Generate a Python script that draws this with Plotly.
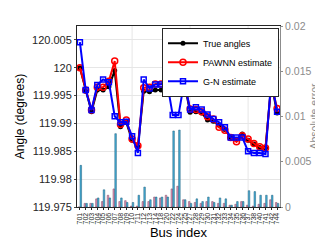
import plotly.graph_objects as go

buses = ["701","702","703","704","705","706","707","708","709","710","711","712","713","714",
         "718","720","722","724","725","727","728","729","730","731","732","733","734","735",
         "736","737","738","740","741","742","744"]

true_angles = [120.0000, 119.9958, 119.9921, 119.9960, 119.9960, 119.9966, 119.9995, 119.9894, 119.9902,
               119.9870, 119.9858, 119.9958, 119.9957, 119.9960, 119.9960, 119.9963, 119.9997, 119.9999,
               119.9973, 119.9920, 119.9921, 119.9919, 119.9906, 119.9904, 119.9897, 119.9889, 119.9875,
               119.9871, 119.9881, 119.9870, 119.9863, 119.9857, 119.9856, 119.9972, 119.9919]
pawnn = [120.0000, 119.9960, 119.9924, 119.9965, 119.9965, 119.9976, 120.0012, 119.9898, 119.9906,
         119.9872, 119.9860, 119.9964, 119.9965, 119.9971, 119.9971, 119.9975, 120.0017, 120.0020,
         119.9973, 119.9926, 119.9925, 119.9921, 119.9912, 119.9908, 119.9893, 119.9888, 119.9875,
         119.9867, 119.9878, 119.9872, 119.9864, 119.9858, 119.9856, 119.9970, 119.9927]
gn = [120.0046, 119.9960, 119.9924, 119.9969, 119.9979, 119.9974, 119.9913, 119.9902, 119.9903,
      119.9877, 119.9847, 119.9979, 119.9963, 119.9970, 119.9970, 119.9976, 119.9915, 119.9915,
      119.9975, 119.9925, 119.9929, 119.9925, 119.9916, 119.9908, 119.9902, 119.9893, 119.9875,
      119.9875, 119.9875, 119.9850, 119.9847, 119.9847, 119.9845, 119.9980, 119.9921]

err_pawnn = [0.0000, 0.0004, 0.0004, 0.0009, 0.0006, 0.0013, 0.0020, 0.0006, 0.0007, 0.0001, 0.0001,
             0.0006, 0.0006, 0.0011, 0.0010, 0.0013, 0.0020, 0.0023, 0.0008, 0.0006, 0.0005, 0.0004,
             0.0006, 0.0006, 0.0004, 0.0004, 0.0002, 0.0003, 0.0006, 0.0002, 0.0001, 0.0003, 0.0004,
             0.0008, 0.0005]
err_gn = [0.0046, 0.0004, 0.0004, 0.0010, 0.0019, 0.0010, 0.0081, 0.0010, 0.0005, 0.0005, 0.0013,
          0.0022, 0.0008, 0.0011, 0.0011, 0.0011, 0.0084, 0.0085, 0.0008, 0.0004, 0.0009, 0.0006,
          0.0011, 0.0005, 0.0010, 0.0009, 0.0002, 0.0006, 0.0006, 0.0018, 0.0017, 0.0013, 0.0013,
          0.0013, 0.0004]

angle_ticks = [119.975, 119.98, 119.985, 119.99, 119.995, 120.0, 120.005]
angle_ticktext = ["119.975", "119.98", "119.985", "119.99", "119.995", "120", "120.005"]
grid_buses = ["710", "727", "737"]

FONT = "Liberation Sans, Arial, sans-serif"

fig = go.Figure()
fig.add_trace(go.Scatter(x=buses, y=true_angles, name="True angles", mode="lines+markers",
                         line=dict(color="black", width=2),
                         marker=dict(symbol="circle", size=5, color="black"), yaxis="y"))
fig.add_trace(go.Scatter(x=buses, y=pawnn, name="PAWNN estimate", mode="lines+markers",
                         line=dict(color="#ff0000", width=2),
                         marker=dict(symbol="circle-open", size=6, color="#ff0000", line=dict(width=1.5)),
                         yaxis="y"))
fig.add_trace(go.Scatter(x=buses, y=gn, name="G-N estimate", mode="lines+markers",
                         line=dict(color="#0000ff", width=2),
                         marker=dict(symbol="square-open", size=5, color="#0000ff", line=dict(width=1.5)),
                         yaxis="y"))
fig.add_trace(go.Bar(x=buses, y=err_pawnn, name="PAWNN error", showlegend=False,
                     marker=dict(color="#e393b8", line=dict(color="#7a4a62", width=0.5)), yaxis="y2"))
fig.add_trace(go.Bar(x=buses, y=err_gn, name="G-N error", showlegend=False,
                     marker=dict(color="#46b0d8", line=dict(color="#1d5a78", width=0.5)), yaxis="y2"))

for b in grid_buses:
    fig.add_shape(type="line", xref="x", yref="paper", x0=buses.index(b), x1=buses.index(b),
                  y0=0, y1=1, line=dict(color="#e6e6e6", width=1), layer="below")

fig.update_layout(
    width=323, height=242,
    margin=dict(l=61, r=49, t=17, b=34),
    paper_bgcolor="white", plot_bgcolor="white",
    font=dict(family=FONT, size=11, color="#262626"),
    barmode="group", bargap=0.38, bargroupgap=0.12,
    showlegend=True,
    legend=dict(x=0.995, y=0.99, xanchor="right", yanchor="top",
                bordercolor="#262626", borderwidth=1, bgcolor="white",
                font=dict(size=9, family=FONT, color="black"),
                itemwidth=30, tracegroupgap=0),
    xaxis=dict(type="category", range=[-0.5, len(buses) - 0.5], tickangle=-90,
               tickmode="array", tickvals=buses, ticktext=buses,
               tickfont=dict(size=7, color="#262626"), showgrid=False,
               showline=True, linecolor="#262626", mirror=True, linewidth=1,
               ticks="outside", ticklen=2, tickcolor="#262626",
               title=dict(text="Bus index", font=dict(size=13, color="black"), standoff=4)),
    yaxis=dict(range=[119.975, 120.0075], tickvals=angle_ticks, ticktext=angle_ticktext,
               showgrid=True, gridcolor="#e6e6e6", zeroline=False,
               showline=True, linecolor="#262626", linewidth=1, ticks="outside", ticklen=2,
               tickfont=dict(size=11, color="#262626"),
               title=dict(text="Angle (degrees)", font=dict(size=12, color="black"), standoff=4)),
    yaxis2=dict(range=[0, 0.02], dtick=0.005, overlaying="y", side="right", showgrid=False,
                zeroline=False, showline=True, linecolor="#8c8c8c", linewidth=1,
                ticks="outside", ticklen=2, tickcolor="#8c8c8c",
                tickfont=dict(size=10.5, color="#8c8c8c"),
                title=dict(text="Absolute error", font=dict(size=10.5, color="#8c8c8c"), standoff=0)),
)

fig.write_html("out.html")
